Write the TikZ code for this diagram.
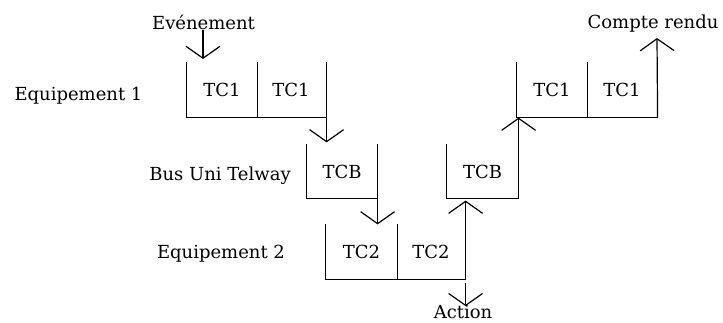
\documentclass[tikz,border=0pt]{standalone}
\usepackage{fontspec}
\setmainfont{DejaVu Serif}
\usetikzlibrary{arrows.meta}
\begin{document}
\begin{tikzpicture}[x=1pt,y=-1pt,line width=1.2pt,
  txt/.style={font=\fontsize{18}{21}\selectfont},
  bin/.style={txt,minimum width=70pt,minimum height=54pt,inner sep=0pt},
  lbl/.style={txt,anchor=base,inner sep=0pt},
  arr/.style={-{Straight Barb[length=12pt,width=34pt]}}]
\useasboundingbox (0,0) rectangle (723,322);
% compartments
\node[bin] (c11) at (222,90) {TC1};
\node[bin] (c12) at (291,90) {TC1};
\node[bin] (c13) at (552,90) {TC1};
\node[bin] (c14) at (622,90) {TC1};
\node[bin,minimum height=53pt] (b1) at (342,171.5) {TCB};
\node[bin,minimum height=53pt,minimum width=71pt] (b2) at (482.5,171.5) {TCB};
\node[bin,minimum width=71pt] (d1) at (361.5,252) {TC2};
\node[bin,minimum width=68pt] (d2) at (431,252) {TC2};
% labels
\node[lbl] (ev) at (203.5,29) {Evénement};
\node[lbl] (cr) at (653,28) {Compte rendu};
\node[lbl] (e1) at (78.5,100) {Equipement 1};
\node[lbl] (bus) at (220,180) {Bus Uni Telway};
\node[lbl] (e2) at (221,258) {Equipement 2};
\node[lbl] (act) at (463,318) {Action};
% coordinates
\coordinate (t0) at (203,59);
\coordinate (t7) at (657,38);
% event arrow
\draw[arr] (ev.south -| t0) -- (t0);
% equipement 1 (left)
\draw (c11.north west) -- (c11.south west) -- (c12.south east);
\draw (c11.north east) -- (c11.south east);
\draw[arr] (c12.north east) -- ([yshift=2pt]c12.east |- b1.north);
% bus (left)
\draw (b1.north west) -- (b1.south west) -- (b1.south east);
\draw[arr] (b1.north east) -- (b1.east |- d1.north);
% equipement 2
\draw (d1.north west) -- (d1.south west) -- (d2.south east);
\draw (d1.north east) -- (d1.south east);
\draw[arr] (d2.south east) -- ([yshift=-2pt]d2.east |- b2.south);
\draw[arr] ([yshift=-3pt]d2.south east) -- ([yshift=-2pt]d2.east |- act.north);
% bus (right)
\draw (b2.north west) -- (b2.south west) -- (b2.south east);
\draw[arr] (b2.south east) -- (b2.east |- c13.south);
% equipement 1 (right)
\draw (c13.north west) -- (c13.south west) -- (c14.south east);
\draw (c13.north east) -- (c13.south east);
\draw[arr] (c14.south east) -- (t7);
\end{tikzpicture}
\end{document}
